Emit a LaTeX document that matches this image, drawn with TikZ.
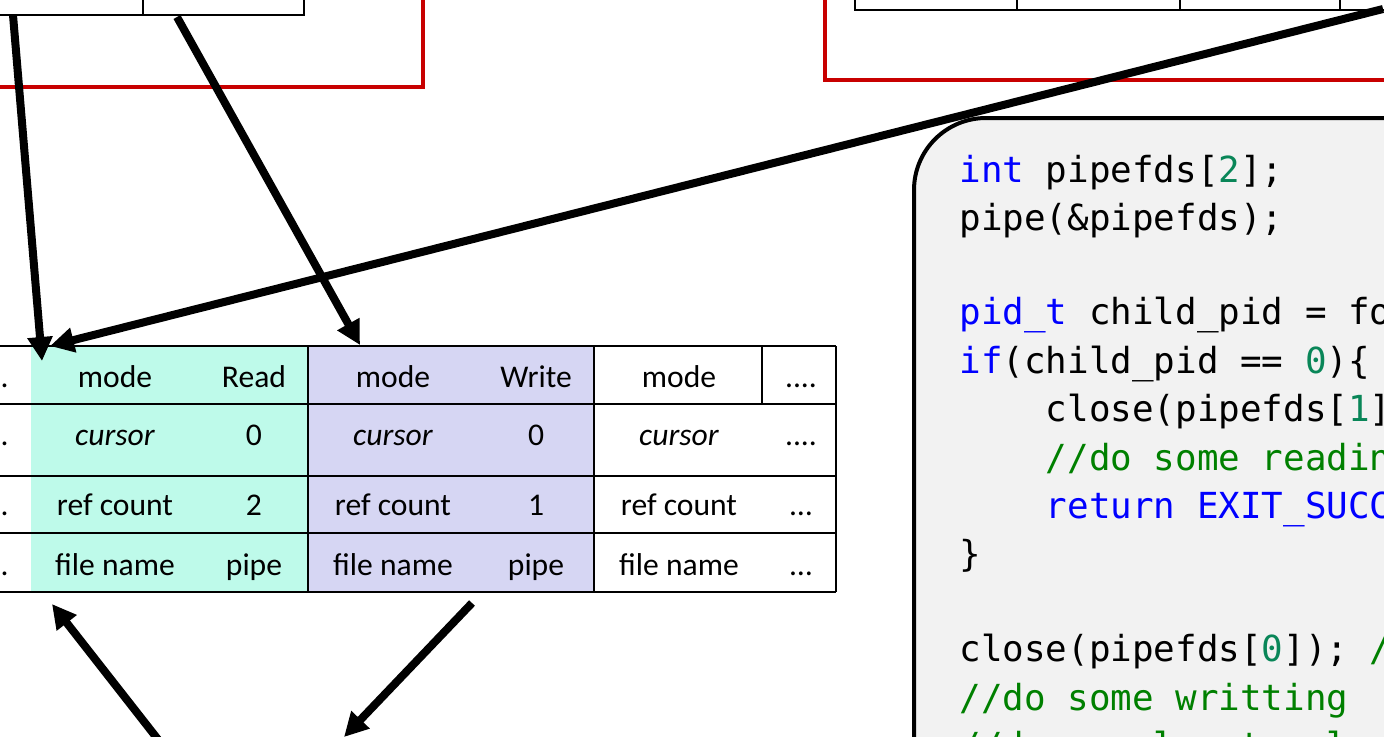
\documentclass[tikz,border=0pt]{standalone}
\usepackage{fontspec}
\setmainfont{Carlito}
\newfontfamily\codefont{DejaVu Sans Mono}
\usetikzlibrary{arrows.meta}
\definecolor{redbox}{RGB}{200,0,0}
\definecolor{readfill}{RGB}{190,250,234}
\definecolor{writefill}{RGB}{214,214,243}
\definecolor{codebg}{RGB}{242,242,242}
\definecolor{kwblue}{RGB}{0,0,255}
\definecolor{numgreen}{RGB}{9,134,88}
\definecolor{cmtgreen}{RGB}{0,128,0}

\begin{document}
\begin{tikzpicture}[x=0.5pt,y=-0.5pt,
		arr/.style={line width=4pt,-{Triangle[length=12pt,width=12pt]}},
		cell/.style={draw=black,line width=1.2pt},
		procbox/.style={draw=redbox,line width=1.7pt},
		codebox/.style={draw=black,line width=2pt,fill=codebg,rounded corners=36pt},
		lbl/.style={anchor=base,inner sep=0pt,font=\fontsize{15.8}{19}\selectfont},
		codeline/.style={anchor=base west,inner sep=0pt,font=\codefont\fontsize{17.94}{24}\selectfont}]
		\useasboundingbox (0,0) rectangle (1384,736);
		\clip (0,0) rectangle (1384,736);

		% parent process (top left)
		\draw[procbox] (-40,-60) rectangle (423,87);
		\draw[cell] (-20,-40) rectangle (143,15);
		\draw[cell] (143,-40) rectangle (304,15);

		% child process (top right)
		\draw[procbox] (825,-60) rectangle (1440,80);
		\draw[cell] (855,-40) rectangle (1017,10);
		\draw[cell] (1017,-40) rectangle (1180,10);
		\draw[cell] (1180,-40) rectangle (1340,10);
		\draw[cell] (1340,-40) rectangle (1420,10);

		% open file table
		\fill[readfill] (31,346) rectangle (308,592);
		\fill[writefill] (308,346) rectangle (594,592);
		\foreach \y in {346,404,476,533,592}
			\draw[cell] (-10,\y) -- (836,\y);
		\foreach \x in {308,594,836}
			\draw[cell] (\x,346) -- (\x,592);
		\draw[cell] (762,346) -- (762,404);

		\node[lbl, anchor=base east] (dotsA) at (9,387) {....};
		\node[lbl, anchor=base east] (dotsB) at (9,445) {....};
		\node[lbl, anchor=base east] (dotsC) at (9,515) {....};
		\node[lbl, anchor=base east] (dotsD) at (9,575) {....};

		\node[lbl] (rdmode) at (115,387) {mode};
		\node[lbl] (rdmodev) at (254,387) {Read};
		\node[lbl] (rdcur) at (115,445) {\itshape cursor};
		\node[lbl] (rdcurv) at (254,445) {0};
		\node[lbl] (rdref) at (115,515) {ref count};
		\node[lbl] (rdrefv) at (254,515) {2};
		\node[lbl] (rdname) at (115,575) {file name};
		\node[lbl] (rdnamev) at (254,575) {pipe};

		\node[lbl] (wrmode) at (393,387) {mode};
		\node[lbl] (wrmodev) at (536,387) {Write};
		\node[lbl] (wrcur) at (393,445) {\itshape cursor};
		\node[lbl] (wrcurv) at (536,445) {0};
		\node[lbl] (wrref) at (393,515) {ref count};
		\node[lbl] (wrrefv) at (536,515) {1};
		\node[lbl] (wrname) at (393,575) {file name};
		\node[lbl] (wrnamev) at (536,575) {pipe};

		\node[lbl] (othmode) at (679,387) {mode};
		\node[lbl] (othmodev) at (801,387) {....};
		\node[lbl] (othcur) at (679,445) {\itshape cursor};
		\node[lbl] (othcurv) at (801,445) {....};
		\node[lbl] (othref) at (679,515) {ref count};
		\node[lbl] (othrefv) at (801,515) {…};
		\node[lbl] (othname) at (679,575) {file name};
		\node[lbl] (othnamev) at (801,575) {…};

		% code
		\draw[codebox] (914,118) rectangle (1500,900);
		\node[codeline] (ln1) at (959,182) {{\color{kwblue}int} pipefds[{\color{numgreen}2}];};
		\node[codeline] (ln2) at (959,230) {pipe(\&pipefds);};
		\node[codeline] (ln4) at (959,324) {{\color{kwblue}pid\_t} child\_pid = fo};
		\node[codeline] (ln5) at (959,373) {{\color{kwblue}if}(child\_pid == {\color{numgreen}0})\{};
		\node[codeline] (ln6) at (1045.4,421) {close(pipefds[{\color{numgreen}1}]};
		\node[codeline] (ln7) at (1045.4,470) {\color{cmtgreen}//do some readin};
		\node[codeline] (ln8) at (1045.4,518) {\color{kwblue}return EXIT\_SUCC};
		\node[codeline] (ln9) at (959,566) {\}};
		\node[codeline] (ln11) at (959,661) {close(pipefds[{\color{numgreen}0}]); {\color{cmtgreen}/}};
		\node[codeline] (ln12) at (959,710) {\color{cmtgreen}//do some writting};
		\node[codeline] (ln13) at (959,758) {\color{cmtgreen}//done, also to close};

		% pointers
		\coordinate (pfd0) at (13,15);
		\coordinate (pfd1) at (177,17);
		\coordinate (cfd0) at (1383,9);
		\coordinate (rdin) at (42,361);
		\coordinate (rdin2) at (50,346);
		\coordinate (wrin) at (360,345);
		\coordinate (lowa) at (160,742);
		\coordinate (rdout) at (52,604);
		\coordinate (wrout) at (472,603);
		\coordinate (lowb) at (344,737);
		\draw[arr] (pfd0) -- (rdin);
		\draw[arr] (pfd1) -- (wrin);
		\draw[arr] (cfd0) -- (rdin2);
		\draw[arr] (lowa) -- (rdout);
		\draw[arr] (wrout) -- (lowb);
	\end{tikzpicture}
\end{document}
